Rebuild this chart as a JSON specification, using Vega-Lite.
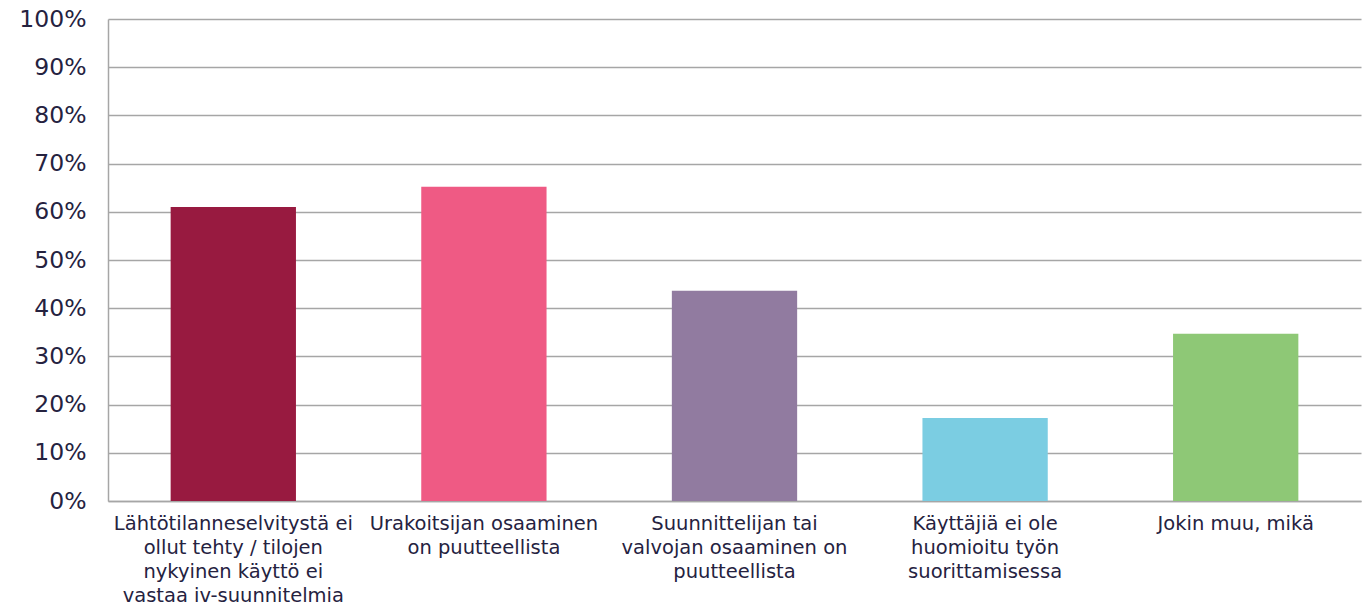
{
  "$schema": "https://vega.github.io/schema/vega-lite/v6.json",
  "width": 1253,
  "height": 482,
  "autosize": {"type": "none"},
  "padding": {"left": 108, "top": 19, "right": 9, "bottom": 111},
  "background": "white",
  "data": {
    "values": [
      {"kategoria": "Lähtötilanneselvitystä ei|ollut tehty / tilojen|nykyinen käyttö ei|vastaa iv-suunnitelmia", "osuus": 0.61, "vari": "a"},
      {"kategoria": "Urakoitsijan osaaminen|on puutteellista", "osuus": 0.652, "vari": "b"},
      {"kategoria": "Suunnittelijan tai|valvojan osaaminen on|puutteellista", "osuus": 0.436, "vari": "c"},
      {"kategoria": "Käyttäjiä ei ole|huomioitu työn|suorittamisessa", "osuus": 0.172, "vari": "d"},
      {"kategoria": "Jokin muu, mikä", "osuus": 0.347, "vari": "e"}
    ]
  },
  "config": {
    "view": {"stroke": null},
    "font": "DejaVu Sans"
  },
  "mark": {"type": "bar"},
  "encoding": {
    "x": {
      "field": "kategoria",
      "type": "nominal",
      "sort": null,
      "scale": {"paddingInner": 0.5, "paddingOuter": 0.25},
      "axis": {
        "title": null,
        "labelAngle": 0,
        "labelExpr": "split(datum.value, '|')",
        "labelOverlap": false,
        "labelBound": false,
        "labelLimit": 0,
        "labelFont": "DejaVu Sans",
        "labelFontSize": 19.5,
        "labelLineHeight": 24,
        "labelColor": "#25223F",
        "labelPadding": 13,
        "ticks": false,
        "domainColor": "#A6A6A6",
        "domainWidth": 1.5
      }
    },
    "y": {
      "field": "osuus",
      "type": "quantitative",
      "scale": {"domain": [0, 1]},
      "axis": {
        "title": null,
        "format": ".0%",
        "values": [0, 0.1, 0.2, 0.3, 0.4, 0.5, 0.6, 0.7, 0.8, 0.9, 1],
        "labelFont": "DejaVu Sans",
        "labelFontSize": 23.5,
        "labelColor": "#25223F",
        "labelPadding": 22,
        "ticks": false,
        "grid": true,
        "gridColor": "#A6A6A6",
        "gridWidth": 1.3,
        "domainColor": "#A6A6A6",
        "domainWidth": 1.5
      }
    },
    "color": {
      "field": "vari",
      "type": "nominal",
      "scale": {"domain": ["a", "b", "c", "d", "e"], "range": ["#981A40", "#EF5A84", "#917BA0", "#7BCDE2", "#8EC876"]},
      "legend": null
    }
  }
}
